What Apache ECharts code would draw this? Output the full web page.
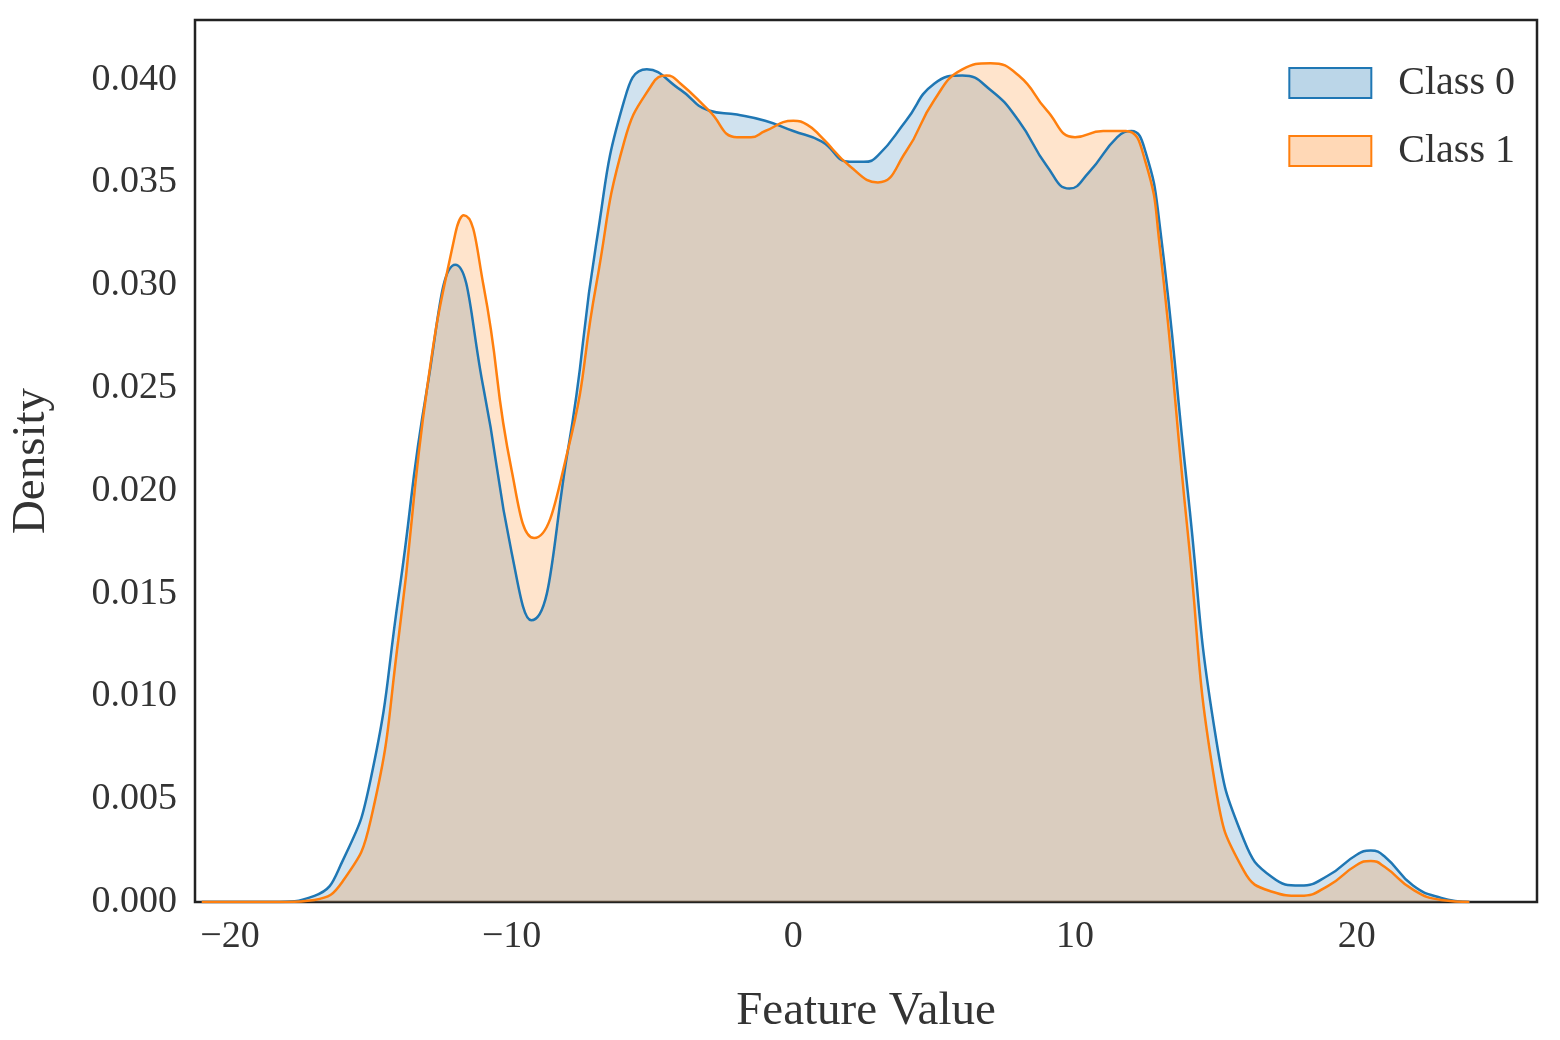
<!DOCTYPE html>
<html><head><meta charset="utf-8">
<script src="https://cdn.jsdelivr.net/npm/echarts@6/dist/echarts.min.js"></script>
<style>html,body{margin:0;padding:0;background:#fff}#c{width:1560px;height:1040px}</style>
</head><body><div id="c"></div>
<script>
const xTicks = [-20, -10, 0, 10, 20];
const class0X = [-21,-18.5,-17,-16,-15,-14,-13,-12,-11,-10,-9.3,-8,-7,-6,-5.2,-4,-3,-2,-1,0,1,2,2.5,3,4,5,6,7,8,9,9.8,10.5,11.5,12,12.5,13,14,15,16,17,18,19,20,20.5,21,22,23,24];
const class0Y = [0,0,0.0003,0.002,0.006,0.015,0.025,0.031,0.025,0.017,0.0137,0.022,0.032,0.039,0.0405,0.0395,0.0385,0.0383,0.038,0.0375,0.037,0.036,0.036,0.0363,0.038,0.0398,0.0402,0.0395,0.038,0.0358,0.0347,0.0355,0.0372,0.0375,0.0365,0.033,0.020,0.008,0.003,0.0012,0.0008,0.0013,0.0023,0.0025,0.0022,0.0008,0.0002,0];
const class1X = [-21,-18,-17,-16,-15,-14,-13,-12,-11.7,-11,-10,-9.2,-8,-7,-6,-5,-4.5,-4,-3,-2,-1.5,-1,0,0.5,1,2,3,4,5,6,7,8,9,10,11,11.8,12.5,13,14,15,16,17,18,19,20,20.5,21,22,23,24];
const class1Y = [0,0,0.0001,0.001,0.004,0.013,0.025,0.0325,0.0334,0.030,0.021,0.0177,0.022,0.030,0.037,0.0398,0.0402,0.0398,0.0385,0.0372,0.0372,0.0375,0.038,0.0378,0.0372,0.0358,0.035,0.0365,0.039,0.0405,0.0408,0.0402,0.0385,0.0372,0.0375,0.0375,0.036,0.032,0.018,0.0055,0.0015,0.0005,0.0003,0.0008,0.0018,0.002,0.0017,0.0006,0.0001,0];
const names = ['Class 0', 'Class 1'];
const zip = (a, b) => a.map((v, i) => [v, b[i]]);
const font = 'Liberation Serif';
const chart = echarts.init(document.getElementById('c'));
function ser(name, d, col, fill) {
  return {name, type:'line', data:d, smooth:0.5, showSymbol:false, symbol:'none',
    lineStyle:{color:col, width:2.5}, itemStyle:{color:fill, borderColor:col, borderWidth:3},
    areaStyle:{color:fill}};
}
chart.setOption({
  animation:false,
  grid:{left:193, top:20, width:1344, height:892, show:true, borderColor:'#222', borderWidth:2.5, backgroundColor:'transparent'},
  legend:{right:40, top:58, orient:'vertical', itemWidth:82, itemHeight:30, itemGap:28,
    icon:'rect', textStyle:{fontFamily:font, fontSize:40, color:'#333', padding:[0,0,0,22]}, data:names},
  xAxis:{type:'value', min:-21.24, max:26.4,
    axisLine:{show:false}, axisTick:{show:false}, splitLine:{show:false},
    axisLabel:{fontFamily:font, fontSize:38, color:'#333', margin:16, showMinLabel:true, showMaxLabel:true,
      customValues:xTicks, formatter:v=>String(v).replace('-','\u2212')},
    name:'Feature Value', nameLocation:'middle', nameGap:86, nameTextStyle:{fontFamily:font, fontSize:47, color:'#333'}},
  yAxis:{type:'value', min:0, max:0.0429, interval:0.005,
    axisLine:{show:false}, axisTick:{show:false}, splitLine:{show:false},
    axisLabel:{fontFamily:font, fontSize:38, color:'#333', margin:18, showMaxLabel:false, formatter:v=>v.toFixed(3)},
    name:'Density', nameLocation:'middle', nameGap:140, nameTextStyle:{fontFamily:font, fontSize:47, color:'#333'}},
  series:[
    ser(names[0], zip(class0X, class0Y), '#1f77b4', 'rgba(31,119,180,0.3)'),
    ser(names[1], zip(class1X, class1Y), '#ff7f0e', 'rgba(255,127,14,0.3)')
  ]
});
</script></body></html>
